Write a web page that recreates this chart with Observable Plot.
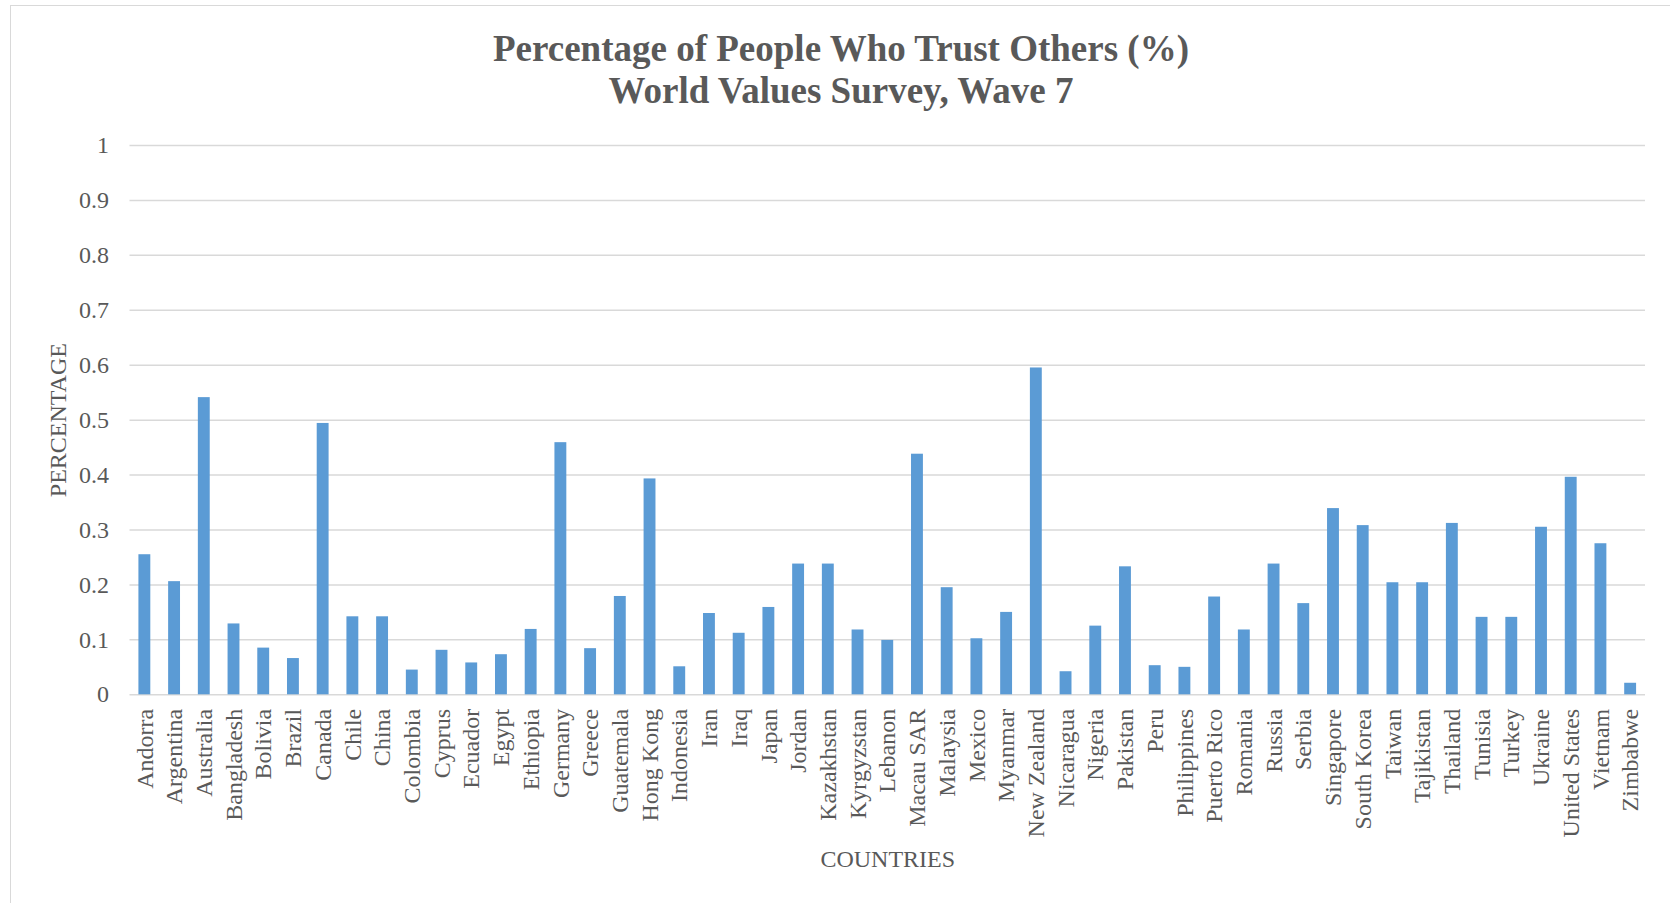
<!DOCTYPE html>
<html>
<head>
<meta charset="utf-8">
<script src="https://cdn.jsdelivr.net/npm/d3@7"></script>
<script src="https://cdn.jsdelivr.net/npm/@observablehq/plot@0.6"></script>
<style>
  html, body { margin: 0; padding: 0; background: #fff; }
  #page { position: relative; width: 1670px; height: 903px; overflow: hidden; font-family: "Liberation Serif", "Times New Roman", serif; }
  #frame { position: absolute; left: 10px; top: 5px; width: 1700px; height: 960px; border: 1.5px solid #d9d9d9; box-sizing: border-box; }
  #title { position: absolute; left: 6px; top: 28px; width: 1670px; text-align: center; color: #595959; font-weight: bold; font-size: 37px; line-height: 42px; }
  #chart { position: absolute; left: 0; top: 120px; }
</style>
</head>
<body>
<div id="page">
  <div id="frame"></div>
  <div id="title">Percentage of People Who Trust Others (%)<br>World Values Survey, Wave 7</div>
  <div id="chart"></div>
</div>
<script>
const countries = ["Andorra","Argentina","Australia","Bangladesh","Bolivia","Brazil","Canada","Chile","China","Colombia","Cyprus","Ecuador","Egypt","Ethiopia","Germany","Greece","Guatemala","Hong Kong","Indonesia","Iran","Iraq","Japan","Jordan","Kazakhstan","Kyrgyzstan","Lebanon","Macau SAR","Malaysia","Mexico","Myanmar","New Zealand","Nicaragua","Nigeria","Pakistan","Peru","Philippines","Puerto Rico","Romania","Russia","Serbia","Singapore","South Korea","Taiwan","Tajikistan","Thailand","Tunisia","Turkey","Ukraine","United States","Vietnam","Zimbabwe"];
const trust = [0.255,0.206,0.541,0.129,0.085,0.066,0.494,0.142,0.142,0.045,0.081,0.058,0.073,0.119,0.459,0.084,0.179,0.393,0.051,0.148,0.112,0.159,0.238,0.238,0.118,0.099,0.438,0.195,0.102,0.150,0.595,0.042,0.125,0.233,0.053,0.050,0.178,0.118,0.238,0.166,0.339,0.308,0.204,0.204,0.312,0.141,0.141,0.305,0.396,0.275,0.021];
const yTicks = [0,0.1,0.2,0.3,0.4,0.5,0.6,0.7,0.8,0.9,1];
const yTickLabels = ["0","0.1","0.2","0.3","0.4","0.5","0.6","0.7","0.8","0.9","1"];
const xTitle = "COUNTRIES";
const yTitle = "PERCENTAGE";

const data = countries.map((c, i) => ({country: c, value: trust[i]}));
const grey = "#595959";

const chart = Plot.plot({
  width: 1670,
  height: 783,
  marginLeft: 129.5,
  marginRight: 25,
  marginTop: 25,
  marginBottom: 208.7,
  style: { fontFamily: "'Liberation Serif', 'Times New Roman', serif", fontSize: "24px", color: grey, background: "transparent", overflow: "visible" },
  x: { domain: countries, paddingInner: 0.6, paddingOuter: 0.3, label: null },
  y: { domain: [0, 1], label: null },
  marks: [
    Plot.ruleY(yTicks, { stroke: "#d9d9d9", strokeWidth: 1.5 }),
    Plot.barY(data, { x: "country", y: "value", fill: "#5B9BD5" }),
    Plot.axisY({ ticks: yTicks, tickFormat: (d) => yTickLabels[yTicks.indexOf(d)], tickSize: 0, tickPadding: 21, fill: grey, fontSize: 24, label: null }),
    Plot.axisX({ tickSize: 0, tickPadding: 14, tickRotate: -90, fill: grey, fontSize: 24, label: null }),
    Plot.text([xTitle], { frameAnchor: "bottom", dy: 165, text: d => d, fill: grey, fontSize: 24, textAnchor: "middle", lineAnchor: "middle" }),
    Plot.text([yTitle], { frameAnchor: "left", dx: -72, rotate: -90, text: d => d, fill: grey, fontSize: 24, textAnchor: "middle", lineAnchor: "middle" })
  ]
});
document.getElementById("chart").appendChild(chart);
</script>
</body>
</html>
